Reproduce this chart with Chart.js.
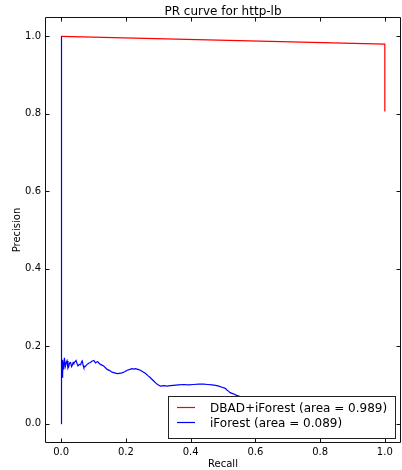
<!DOCTYPE html>
<html><head><meta charset="utf-8">
<style>html,body{margin:0;padding:0;background:#fff;} canvas{display:block;}</style>
<script src="https://cdn.jsdelivr.net/npm/chart.js@4.4.0/dist/chart.umd.min.js"></script>
</head><body>
<canvas id="c" width="402" height="470"></canvas>
<script>
const titleText = "PR curve for http-lb";
const xLabel = "Recall";
const yLabel = "Precision";
const tickValues = [0, 0.2, 0.4, 0.6, 0.8, 1.0];
const seriesNames = ["DBAD+iForest (area = 0.989)", "iForest (area = 0.089)"];
const seriesColors = ["#ff0000", "#0000ff"];

const dbadRecall = [0, 1.0, 1.0];
const dbadPrecision = [1.0, 0.98, 0.806];

const ifRecall = [0, 0, 0.001, 0.002, 0.003, 0.004, 0.005, 0.006, 0.008, 0.010, 0.013, 0.016, 0.018, 0.021, 0.023, 0.026, 0.029, 0.032, 0.034, 0.037, 0.039, 0.043, 0.046, 0.049, 0.052, 0.056, 0.060, 0.063, 0.065, 0.068, 0.070, 0.075, 0.080, 0.085, 0.090, 0.095, 0.101, 0.106, 0.110, 0.113, 0.117, 0.121, 0.126, 0.131, 0.136, 0.142, 0.150, 0.157, 0.165, 0.173, 0.180, 0.188, 0.196, 0.204, 0.212, 0.219, 0.225, 0.229, 0.237, 0.245, 0.252, 0.260, 0.268, 0.275, 0.281, 0.286, 0.291, 0.296, 0.302, 0.307, 0.317, 0.327, 0.337, 0.347, 0.362, 0.378, 0.394, 0.409, 0.425, 0.440, 0.453, 0.466, 0.477, 0.487, 0.497, 0.507, 0.512, 0.517, 0.522, 0.532, 0.542, 0.56, 0.6, 0.7, 0.8, 0.9, 1.0];
const ifPrecision = [0.0, 1.0, 0.11, 0.15, 0.12, 0.165, 0.13, 0.16, 0.14, 0.17, 0.148, 0.158, 0.162, 0.143, 0.146, 0.157, 0.158, 0.147, 0.150, 0.158, 0.156, 0.160, 0.163, 0.155, 0.149, 0.153, 0.152, 0.160, 0.162, 0.150, 0.145, 0.148, 0.153, 0.156, 0.158, 0.161, 0.163, 0.157, 0.159, 0.160, 0.156, 0.153, 0.151, 0.149, 0.145, 0.140, 0.137, 0.133, 0.131, 0.129, 0.130, 0.131, 0.134, 0.138, 0.140, 0.142, 0.141, 0.142, 0.140, 0.138, 0.134, 0.130, 0.124, 0.119, 0.114, 0.110, 0.106, 0.102, 0.099, 0.097, 0.098, 0.097, 0.098, 0.099, 0.100, 0.101, 0.100, 0.101, 0.102, 0.102, 0.101, 0.100, 0.099, 0.097, 0.094, 0.091, 0.087, 0.084, 0.080, 0.077, 0.073, 0.068, 0.062, 0.058, 0.055, 0.052, 0.050];

const FONT = "'DejaVu Sans', sans-serif";

function toPoints(xs, ys) { return xs.map((x, i) => ({x: x, y: ys[i]})); }

const decorPlugin = {
  id: 'decor',
  afterDatasetsDraw(chart) {
    const ctx = chart.ctx;
    const a = chart.chartArea;
    const sx = chart.scales.x, sy = chart.scales.y;
    const L = Math.round(a.left) + 0.5, R = Math.round(a.right) - 0.5;
    const T = Math.round(a.top) + 0.5, B = Math.round(a.bottom) - 0.5;
    ctx.save();
    ctx.strokeStyle = '#111';
    ctx.lineWidth = 1;
    ctx.beginPath();
    ctx.rect(L, T, R - L, B - T);
    tickValues.forEach(v => {
      const px = Math.round(sx.getPixelForValue(v)) + 0.5;
      ctx.moveTo(px, B); ctx.lineTo(px, B - 4);
      ctx.moveTo(px, T); ctx.lineTo(px, T + 4);
      const py = Math.round(sy.getPixelForValue(v)) + 0.5;
      ctx.moveTo(L, py); ctx.lineTo(L + 4, py);
      ctx.moveTo(R, py); ctx.lineTo(R - 4, py);
    });
    ctx.stroke();

    // legend
    const bx = 168.5, by = 396.5, bw = 227, bh = 42;
    ctx.fillStyle = '#fff';
    ctx.fillRect(bx, by, bw, bh);
    ctx.strokeStyle = '#222';
    ctx.strokeRect(bx, by, bw, bh);
    ctx.font = '12px ' + FONT;
    ctx.textAlign = 'left';
    ctx.textBaseline = 'alphabetic';
    seriesNames.forEach((name, i) => {
      const ly = 407.5 + i * 15;
      ctx.strokeStyle = seriesColors[i];
      ctx.lineWidth = 1.2;
      ctx.beginPath();
      ctx.moveTo(177, ly); ctx.lineTo(195, ly);
      ctx.stroke();
      ctx.fillStyle = '#000';
      ctx.fillText(name, 210, ly + 4.5);
    });

    ctx.fillStyle = '#000';
    ctx.textAlign = 'center';
    ctx.font = '12px ' + FONT;
    ctx.fillText(titleText, (a.left + a.right) / 2, 15);
    ctx.font = '10px ' + FONT;
    ctx.fillText(xLabel, (a.left + a.right) / 2, 467);
    ctx.translate(19.5, (a.top + a.bottom) / 2);
    ctx.rotate(-Math.PI / 2);
    ctx.fillText(yLabel, 0, 0);
    ctx.restore();
  }
};

const tickOpts = (pad) => ({
  callback: v => Number(v).toFixed(1),
  font: {family: FONT, size: 10},
  color: '#000',
  padding: pad,
  maxRotation: 0,
  autoSkip: false
});

new Chart(document.getElementById('c'), {
  type: 'scatter',
  data: {
    datasets: [
      {label: seriesNames[0], data: toPoints(dbadRecall, dbadPrecision), showLine: true, borderColor: seriesColors[0], borderWidth: 1.2, pointRadius: 0, tension: 0, order: 2},
      {label: seriesNames[1], data: toPoints(ifRecall, ifPrecision), showLine: true, borderColor: seriesColors[1], borderWidth: 1.2, pointRadius: 0, tension: 0, order: 1}
    ]
  },
  options: {
    responsive: false,
    animation: false,
    devicePixelRatio: 1,
    layout: {padding: {left: 0, right: 1, top: 17, bottom: 0}},
    plugins: {legend: {display: false}, tooltip: {enabled: false}, title: {display: false}},
    scales: {
      x: {
        type: 'linear', min: -0.05, max: 1.05,
        afterBuildTicks: s => { s.ticks = tickValues.map(v => ({value: v})); },
        afterFit: s => { s.height = 27; },
        ticks: tickOpts(3),
        grid: {display: false, drawTicks: false},
        border: {display: false}
      },
      y: {
        type: 'linear', min: -0.05, max: 1.05,
        afterBuildTicks: s => { s.ticks = tickValues.map(v => ({value: v})); },
        afterFit: s => { s.width = 45; },
        ticks: tickOpts(4),
        grid: {display: false, drawTicks: false},
        border: {display: false}
      }
    }
  },
  plugins: [decorPlugin]
});
</script>
</body></html>
